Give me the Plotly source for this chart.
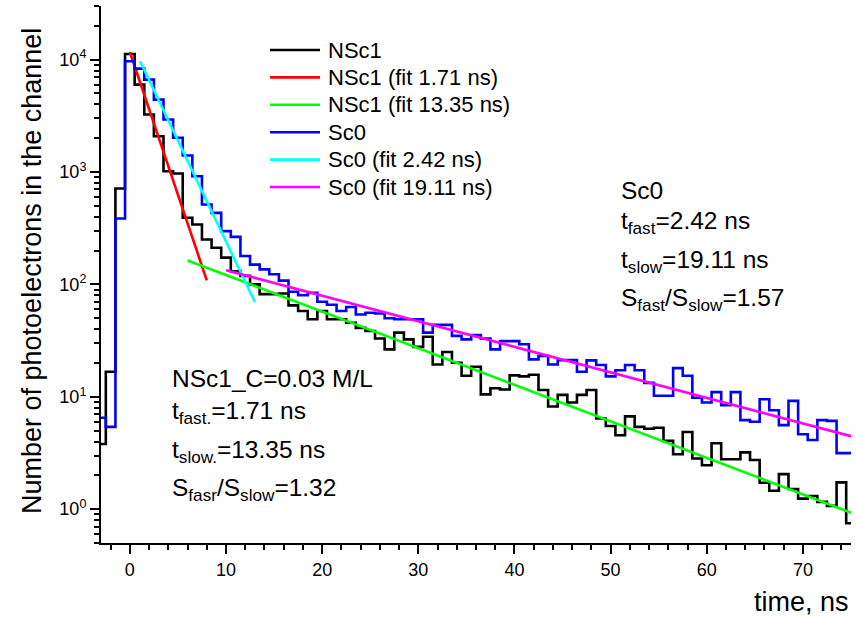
import math
import plotly.graph_objects as go

# Channel centres (ns), 1-ns wide channels
time_ns = list(range(-3, 76))

# Photoelectrons per channel, NSc1 (C = 0.03 M/L)
nsc1_counts = [
    3.8, 16.7, 713, 11230, 5995, 3244, 2083, 1016, 970, 392,
    341, 251, 212, 173, 131, 119, 100, 82, 82, 83,
    65, 58, 49, 58, 49, 49, 45.6, 41, 38.5, 33,
    26.4, 37.2, 32.4, 27.8, 34.2, 19.4, 25.0, 20.1, 15.4, 18.5,
    10.5, 11.9, 11.6, 15.5, 15.2, 15.7, 11.5, 8.2, 10.4, 8.9,
    10.4, 11.5, 6.4, 5.5, 4.55, 6.7, 5.4, 5.2, 5.3, 4.05,
    3.08, 4.86, 2.82, 2.46, 3.86, 2.78, 2.78, 3.2, 2.74, 1.72,
    1.46, 2.05, 1.51, 1.24, 1.31, 1.16, 1.07, 1.73, 0.75,
]

# Photoelectrons per channel, Sc0
sc0_counts = [
    6.5, 5.4, 386, 9665, 8318, 6640, 4406, 2929, 2015, 1403,
    918, 514, 433, 298, 265, 179, 150, 136, 123, 108,
    86, 80, 84, 70, 66, 58, 63, 54, 56, 55,
    50, 49, 49, 49, 37.2, 43.6, 43.6, 34.8, 32.4, 35.5,
    32.9, 26.4, 31.3, 31.3, 29.3, 21.5, 23.1, 19.4, 21.2, 21.2,
    16.7, 21.1, 19.2, 15.2, 17.2, 19.2, 17.2, 13.3, 10.2, 10.2,
    18.0, 15.4, 9.8, 8.9, 11.0, 8.4, 11.0, 6.2, 6.0, 9.5,
    7.6, 5.6, 9.2, 4.64, 4.13, 6.2, 6.1, 3.15, 3.15,
]

# Single-exponential fit components: A * exp(-t / tau) over [t_start, t_end]
fit_names = ["NSc1 (fit 1.71 ns)", "NSc1 (fit 13.35 ns)",
             "Sc0 (fit 2.42 ns)", "Sc0 (fit 19.11 ns)"]
fit_tau = [1.71, 13.35, 2.42, 19.11]
fit_amp = [11700, 256, 15030, 225.7]
fit_start = [0.0, 6.0, 1.07, 10.0]
fit_end = [8.0, 75.0, 13.0, 75.0]

hist_names = ["NSc1", "Sc0"]

# Legend order and colours
legend_names = ["NSc1", "NSc1 (fit 1.71 ns)", "NSc1 (fit 13.35 ns)",
                "Sc0", "Sc0 (fit 2.42 ns)", "Sc0 (fit 19.11 ns)"]
legend_colors = ["#000000", "#ff0000", "#00ff00", "#0000ff", "#00ffff", "#ff00ff"]
color_of = dict(zip(legend_names, legend_colors))

# Plot-area geometry in pixels
FIG_W, FIG_H = 856, 618
M_L, M_R, M_T, M_B = 101, 5, 6, 75
PW, PH = FIG_W - M_L - M_R, FIG_H - M_T - M_B


def px(x):
    return (x - M_L) / PW


def py(y):
    return (FIG_H - M_B - y) / PH


FONT = "Liberation Sans, Arial, sans-serif"
LW = 2.6

fig = go.Figure()

series = {"NSc1": nsc1_counts, "Sc0": sc0_counts}


def add_hist(name):
    fig.add_trace(go.Scatter(
        x=time_ns, y=series[name], mode="lines", name=name,
        line=dict(color=color_of[name], width=LW, shape="hvh"),
        showlegend=False,
    ))


def add_fit(i):
    t = [fit_start[i], fit_end[i]]
    v = [fit_amp[i] * math.exp(-ti / fit_tau[i]) for ti in t]
    fig.add_trace(go.Scatter(
        x=t, y=v, mode="lines", name=fit_names[i],
        line=dict(color=color_of[fit_names[i]], width=LW),
        showlegend=False,
    ))


add_hist("NSc1")
add_fit(0)
add_fit(1)
add_hist("Sc0")
add_fit(2)
add_fit(3)

shapes = []
annotations = []

# Legend: line samples and labels
leg_y0, leg_dy = 50, 27.4
for k, (nm, col) in enumerate(zip(legend_names, legend_colors)):
    yk = leg_y0 + k * leg_dy
    shapes.append(dict(type="line", xref="paper", yref="paper",
                       x0=px(270), x1=px(320), y0=py(yk), y1=py(yk),
                       line=dict(color=col, width=LW)))
    annotations.append(dict(text=nm, xref="paper", yref="paper",
                            x=px(326), y=py(yk), xanchor="left", yanchor="middle",
                            showarrow=False, font=dict(size=22, color="black", family=FONT)))

# Fit-result text blocks (left edge x, baseline y)
TXT = 24.5
left_block = [
    ("NSc1_C=0.03 M/L", 386),
    ("t<sub>fast.</sub>=1.71 ns", 418),
    ("t<sub>slow.</sub>=13.35 ns", 457),
    ("S<sub>fasr</sub>/S<sub>slow</sub>=1.32", 495),
]
right_block = [
    ("Sc0", 198),
    ("t<sub>fast</sub>=2.42 ns", 228),
    ("t<sub>slow</sub>=19.11 ns", 267),
    ("S<sub>fast</sub>/S<sub>slow</sub>=1.57", 305),
]
for x0, block in ((170, left_block), (619, right_block)):
    for txt, base in block:
        annotations.append(dict(text=txt, xref="paper", yref="paper",
                                x=px(x0), y=py(base - 0.905 * TXT - 1),
                                xanchor="left", yanchor="top", showarrow=False,
                                font=dict(size=TXT, color="black", family=FONT)))

# Axis titles
annotations.append(dict(text="time, ns", xref="paper", yref="paper",
                        x=px(851), y=py(610 - 0.905 * 27 - 1), xanchor="right", yanchor="top",
                        showarrow=False, font=dict(size=27, color="black", family=FONT)))
annotations.append(dict(text="Number of photoelectrons in the channel", xref="paper", yref="paper",
                        x=px(32), y=py(271), xanchor="center", yanchor="middle", textangle=-90,
                        showarrow=False, font=dict(size=27, color="black", family=FONT)))

y_tickvals = [1, 10, 100, 1000, 10000]
y_ticktext = ["10<sup>%d</sup>" % int(round(math.log10(v))) for v in y_tickvals]
x_tickvals = [0, 10, 20, 30, 40, 50, 60, 70]

fig.update_layout(
    width=FIG_W, height=FIG_H,
    margin=dict(l=M_L, r=M_R, t=M_T, b=M_B, pad=0),
    paper_bgcolor="white", plot_bgcolor="white",
    font=dict(family=FONT, color="black", size=18),
    shapes=shapes, annotations=annotations,
    showlegend=False,
    xaxis=dict(
        range=[-3, 75], tickmode="array", tickvals=x_tickvals,
        ticks="outside", ticklen=9, tickwidth=2, tickcolor="black",
        showline=True, linewidth=2, linecolor="black",
        showgrid=False, zeroline=False,
        tickfont=dict(size=18, family=FONT, color="black"),
        minor=dict(dtick=2, tick0=0, ticks="outside", ticklen=5, tickwidth=2,
                   tickcolor="black", showgrid=False),
    ),
    yaxis=dict(
        type="log", range=[math.log10(0.5), math.log10(3e4)],
        tickmode="array", tickvals=y_tickvals, ticktext=y_ticktext,
        ticks="outside", ticklen=9, tickwidth=2, tickcolor="black",
        showline=True, linewidth=2, linecolor="black",
        showgrid=False, zeroline=False,
        tickfont=dict(size=18, family=FONT, color="black"),
        minor=dict(dtick="D1", ticks="outside", ticklen=5, tickwidth=2,
                   tickcolor="black", showgrid=False),
    ),
)

fig.write_html("out.html")
